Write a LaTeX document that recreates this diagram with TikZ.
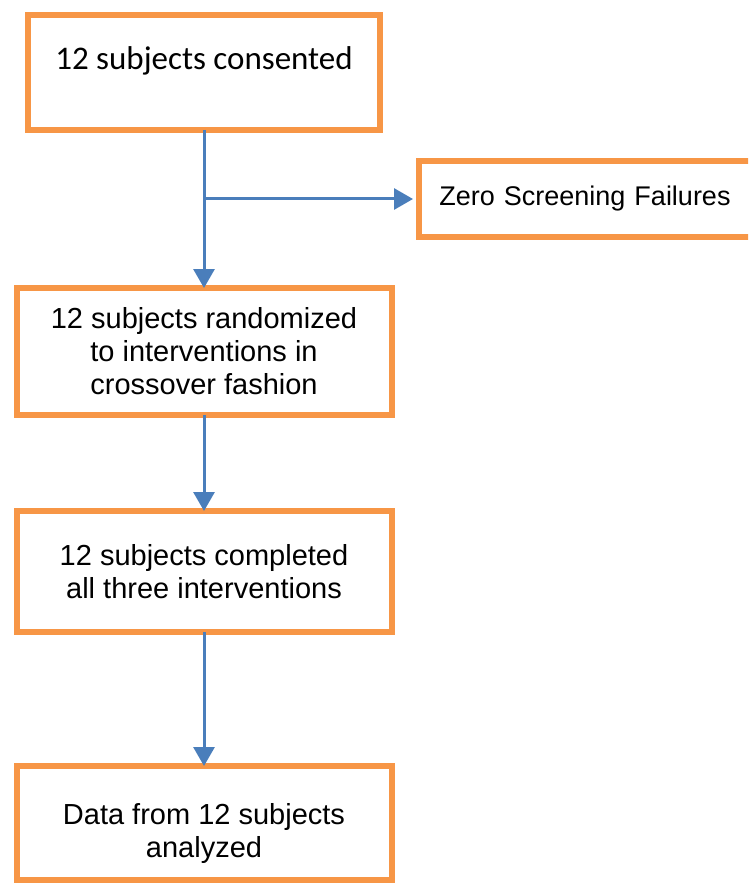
\documentclass[tikz,border=0pt]{standalone}
\usepackage{fontspec}
\setmainfont{Liberation Sans}
\newfontfamily\calfont{Carlito}
\usetikzlibrary{arrows.meta}
\definecolor{boxorange}{HTML}{F79646}
\definecolor{arrowblue}{HTML}{4A7EBB}
\tikzset{
  flowbox/.style={draw=boxorange, line width=6pt, fill=white, align=center, inner sep=0pt,
    font=\fontsize{29}{33}\selectfont},
  flowarrow/.style={draw=arrowblue, line width=3pt,
    -{Triangle[length=19pt,width=21pt]}}
}
\begin{document}
\begin{tikzpicture}[x=1pt,y=-1pt]
\useasboundingbox (0,0) rectangle (748,885);
\clip (0,0) rectangle (748,885);
\node[flowbox, minimum width=352pt, minimum height=115pt, font=\calfont\fontsize{33}{37}\selectfont,
  text height=22pt, text depth=27pt] (consent) at (204,72.5) {12 subjects consented};
\node[flowbox, minimum width=341pt, minimum height=76pt, font=\fontsize{27}{31}\selectfont,
  text width=335pt] (screen) at (589.5,199) {\hspace*{-9pt}Zero Screening Failures};
\node[flowbox, minimum width=375pt, minimum height=127pt] (random) at (204,351.5)
  {12 subjects randomized\\to interventions in\\crossover fashion};
\node[flowbox, minimum width=375pt, minimum height=121pt] (complete) at (204,571.5)
  {12 subjects completed\\all three interventions};
\node[flowbox, minimum width=375pt, minimum height=114pt, text height=74pt, text depth=6pt]
  (analyzed) at (204,823) {Data from 12 subjects\\analyzed};
\coordinate (split) at (consent.south |- screen.west);
\draw[flowarrow] ([yshift=3pt]consent.south) -- ([yshift=-3pt]random.north);
\draw[flowarrow] (split) -- ([xshift=-3pt]screen.west);
\draw[flowarrow] ([yshift=3pt]random.south) -- ([yshift=-3pt]complete.north);
\draw[flowarrow] ([yshift=3pt]complete.south) -- ([yshift=-3pt]analyzed.north);
\end{tikzpicture}
\end{document}
